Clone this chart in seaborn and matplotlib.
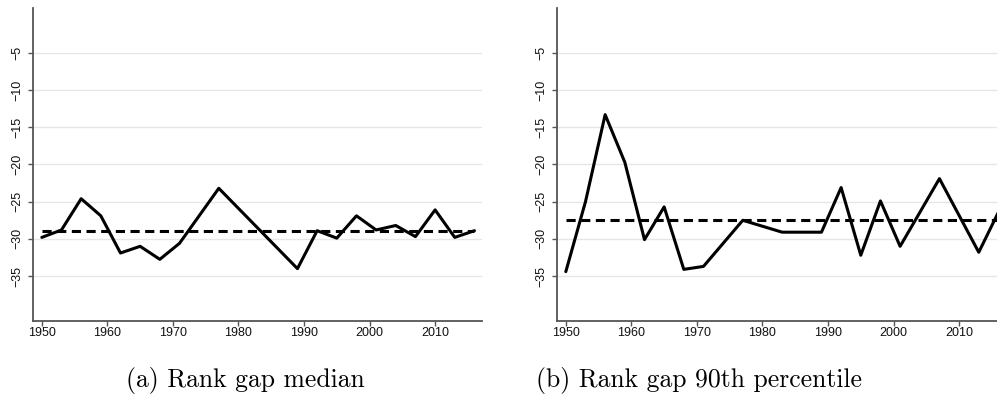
import numpy as np
import pandas as pd
import matplotlib
matplotlib.use("Agg")
import matplotlib.pyplot as plt
import seaborn as sns

# ---- data ----
years_a = [1950, 1953, 1956, 1959, 1962, 1965, 1968, 1971, 1977, 1989,
           1992, 1995, 1998, 2001, 2004, 2007, 2010, 2013, 2016]
gap_median = [-29.8, -28.8, -24.6, -26.9, -31.9, -31.0, -32.75, -30.6, -23.2, -34.0,
              -28.9, -29.9, -26.9, -28.8, -28.2, -29.7, -26.1, -29.8, -28.9]
mean_median = -28.9

years_b = [1950, 1953, 1956, 1959, 1962, 1965, 1968, 1971, 1977, 1983,
           1989, 1992, 1995, 1998, 2001, 2007, 2013, 2016]
gap_p90 = [-34.4, -25.0, -13.3, -19.7, -30.1, -25.7, -34.1, -33.7, -27.5, -29.1,
           -29.1, -23.1, -32.2, -24.9, -31.0, -21.9, -31.8, -26.4]
mean_p90 = -27.4

yticks = [-35, -30, -25, -20, -15, -10, -5]
xticks = [1950, 1960, 1970, 1980, 1990, 2000, 2010]
captions = ["(a) Rank gap median", "(b) Rank gap 90th percentile"]

sns.set_style("white")
plt.rcParams["font.family"] = ["Liberation Sans", "DejaVu Sans"]

W, H = 997, 398
fig = plt.figure(figsize=(W / 100, H / 100), dpi=100)

ax_w = 449 / W
ax_h = 312.4 / H
ax_b = (H - 320.7) / H
axA = fig.add_axes([33.3 / W, ax_b, ax_w, ax_h])
axB = fig.add_axes([557.3 / W, ax_b, ax_w, ax_h])

panels = [
    (axA, years_a, gap_median, mean_median),
    (axB, years_b, gap_p90, mean_p90),
]

spine_col = "#555555"
for ax, yrs, vals, mval in panels:
    df = pd.DataFrame({"year": yrs, "gap": vals})
    for y in yticks:
        ax.axhline(y, color="#e6e6e6", lw=1.0, zorder=0)
    sns.lineplot(data=df, x="year", y="gap", ax=ax, color="black",
                 lw=2.2, zorder=3)
    mdf = pd.DataFrame({"year": [yrs[0], yrs[-1]], "gap": [mval, mval]})
    sns.lineplot(data=mdf, x="year", y="gap", ax=ax, color="black",
                 lw=2.2, dashes=False, zorder=2)
    ax.lines[-1].set_linestyle((0, (3.0, 1.8)))
    ax.set_xlim(1948.7, 2017.2)
    ax.set_ylim(-41.0, 1.0)
    ax.set_xticks(xticks)
    ax.set_yticks(yticks)
    ax.set_yticklabels([f"\u2212{abs(v)}" for v in yticks], rotation=90,
                       va="center")
    ax.set_xlabel("")
    ax.set_ylabel("")
    ax.grid(False)
    for s in ["top", "right"]:
        ax.spines[s].set_visible(False)
    for s in ["left", "bottom"]:
        ax.spines[s].set_color(spine_col)
        ax.spines[s].set_linewidth(1.3)
    ax.tick_params(axis="both", which="major", direction="out", length=3.5,
                   width=1.0, color=spine_col, labelsize=9, labelcolor="#111111",
                   bottom=True, left=True)
    ax.tick_params(axis="x", pad=1.0)
    ax.tick_params(axis="y", pad=3.5)

fig.text(245 / W, 1 - 381 / H, captions[0], ha="center", va="center",
         family="cmr10", fontsize=18.5, color="black")
fig.text(699 / W, 1 - 381 / H, captions[1], ha="center", va="center",
         family="cmr10", fontsize=18.5, color="black")

fig.savefig("out.png", dpi=100)
